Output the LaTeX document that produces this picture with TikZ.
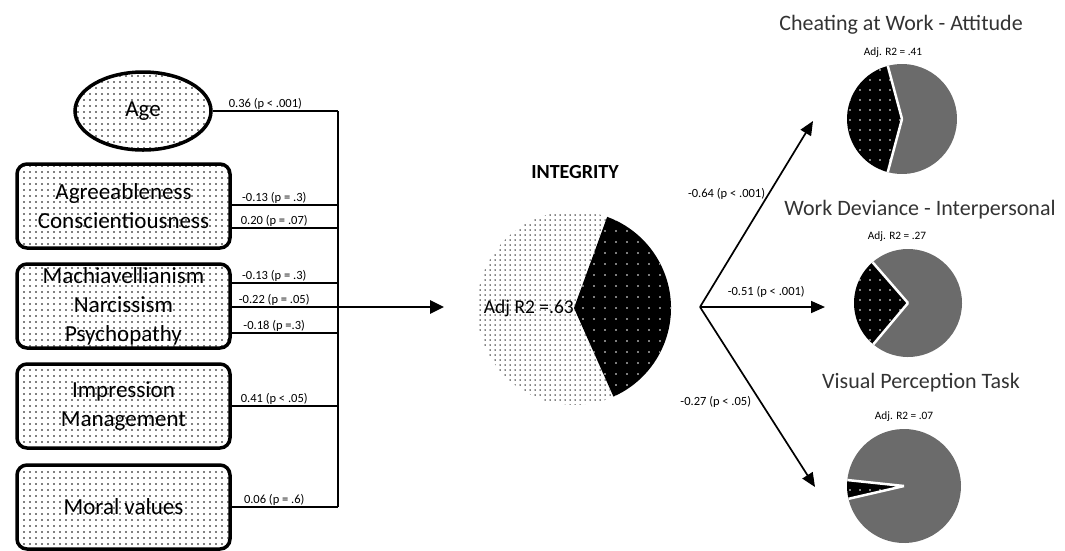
\documentclass[tikz,border=0pt]{standalone}
\usepackage{fontspec}
\setmainfont{Carlito}
\usetikzlibrary{shapes.geometric,patterns.meta,arrows.meta,positioning}

\begin{document}
\begin{tikzpicture}[x=1pt,y=1pt,
  predictor/.style={draw,line width=3.5pt,pattern={Dots[distance=6pt,radius=0.85pt]},
    pattern color=black,align=center,inner sep=1pt,font=\fontsize{23}{29}\selectfont},
  trait/.style={predictor,rectangle,rounded corners=10pt,minimum width=213pt,minimum height=84pt},
  link/.style={line width=1.2pt},
  mainarrow/.style={line width=2.7pt,-{Triangle[length=14pt,width=13pt]}},
  branch/.style={line width=1.7pt,-{Triangle[length=14pt,width=12pt]}},
  tag/.style={font=\fontsize{12.5}{14}\selectfont,inner sep=1pt},
  ratio/.style={font=\fontsize{11.3}{13}\selectfont,inner sep=1pt},
  heading/.style={font=\fontsize{22}{26}\selectfont,text=black!80}
]
  \newcommand{\pieChart}[4]{
    \fill[black!58] (#1.center) -- ++(#4:#2) arc[start angle=#4,end angle=#3+360,radius=#2] -- cycle;
    \fill[black] (#1.center) -- ++(#3:#2) arc[start angle=#3,end angle=#4,radius=#2] -- cycle;
    \fill[pattern={Dots[distance=10pt,radius=0.8pt]},pattern color=white]
      (#1.center) -- ++(#3:#2) arc[start angle=#3,end angle=#4,radius=#2] -- cycle;
    \draw[white,line width=2.5pt] (#1.center) -- ++(#3:#2) (#1.center) -- ++(#4:#2);
  }
  \useasboundingbox (0,0) rectangle (1065,-550);

  % predictors
  \node[predictor,ellipse,minimum width=136pt,minimum height=78pt,inner sep=0pt] (age) at (143,-111) {Age};
  \node[trait] (agree) at (123.5,-206) {Agreeableness\\Conscientiousness};
  \node[trait] (mach) at (123.5,-306) {Machiavellianism\\Narcissism\\Psychopathy};
  \node[trait] (impress) at (123.5,-406) {Impression\\Management};
  \node[trait] (moral) at (123.5,-507) {Moral values};

  \coordinate (bus) at (338,-110);
  \draw[link] (age.east) -- (age.east -| bus) node[tag,above,pos=.42] {0.36 (p < .001)};
  \foreach \src/\dy/\txt in {agree/1/-0.13 (p = .3), agree/-22/0.20 (p = .07),
      mach/23/-0.13 (p = .3), mach/-1/-0.22 (p = .05), mach/-27/-0.18 (p =.3),
      impress/0/0.41 (p < .05), moral/0/0.06 (p = .6)}
    \draw[link] ([yshift=\dy pt]\src.east) coordinate (from) -- (from -| bus)
      node[tag,above,pos=.4] {\txt};
  \draw[link] (age.east -| bus) -- (moral.east -| bus);

  \coordinate (intake) at (444,-307);
  \draw[mainarrow] (bus |- intake) -- (intake);

  % integrity
  \node[circle,minimum size=194pt,inner sep=0pt] (integ) at (574,-308) {};
  \fill[pattern={Dots[distance=5pt,radius=0.75pt]},pattern color=black]
    (integ.center) -- ++(70:97) arc[start angle=70,end angle=294,radius=97] -- cycle;
  \fill[black] (integ.center) -- ++(-66:97) arc[start angle=-66,end angle=70,radius=97] -- cycle;
  \fill[pattern={Dots[distance=11pt,radius=0.8pt]},pattern color=white]
    (integ.center) -- ++(-66:97) arc[start angle=-66,end angle=70,radius=97] -- cycle;
  \node[anchor=east,inner sep=0pt,font=\fontsize{19.5}{22}\selectfont] (integR2) at (integ.center) {Adj R2 =.63};
  \node[font=\bfseries\fontsize{20}{24}\selectfont] (integTitle) at (575,-172) {INTEGRITY};

  % outcomes
  \coordinate (fork) at (700,-307);
  \coordinate (toCheat) at (813,-121);
  \coordinate (toDev) at (825,-307);
  \coordinate (toVis) at (815,-487);
  \draw[branch] (fork) -- (toCheat) node[tag,pos=.61,left=2pt] {-0.64 (p < .001)};
  \draw[branch] (fork) -- (toDev) node[tag,pos=.53,above=8pt] {-0.51 (p < .001)};
  \draw[branch] (fork) -- (toVis) node[tag,pos=.53,left=8pt] {-0.27 (p < .05)};

  \node[circle,minimum size=110pt,inner sep=0pt] (cheat) at (902,-119) {};
  \pieChart{cheat}{55}{105}{255}
  \node[circle,minimum size=108pt,inner sep=0pt] (deviance) at (908,-303) {};
  \pieChart{deviance}{54}{131}{230}
  \node[circle,minimum size=114pt,inner sep=0pt] (visual) at (904,-486) {};
  \pieChart{visual}{57}{174}{193}

  \node[heading] (cheatTitle) at (901,-25) {Cheating at Work - Attitude};
  \node[ratio] (cheatR2) at (893,-53) {Adj. R2 = .41};
  \node[heading] (devTitle) at (920,-210) {Work Deviance - Interpersonal};
  \node[ratio] (devR2) at (897,-237) {Adj. R2 = .27};
  \node[heading] (visTitle) at (921,-383) {Visual Perception Task};
  \node[ratio] (visR2) at (904,-417) {Adj. R2 = .07};
\end{tikzpicture}
\end{document}
